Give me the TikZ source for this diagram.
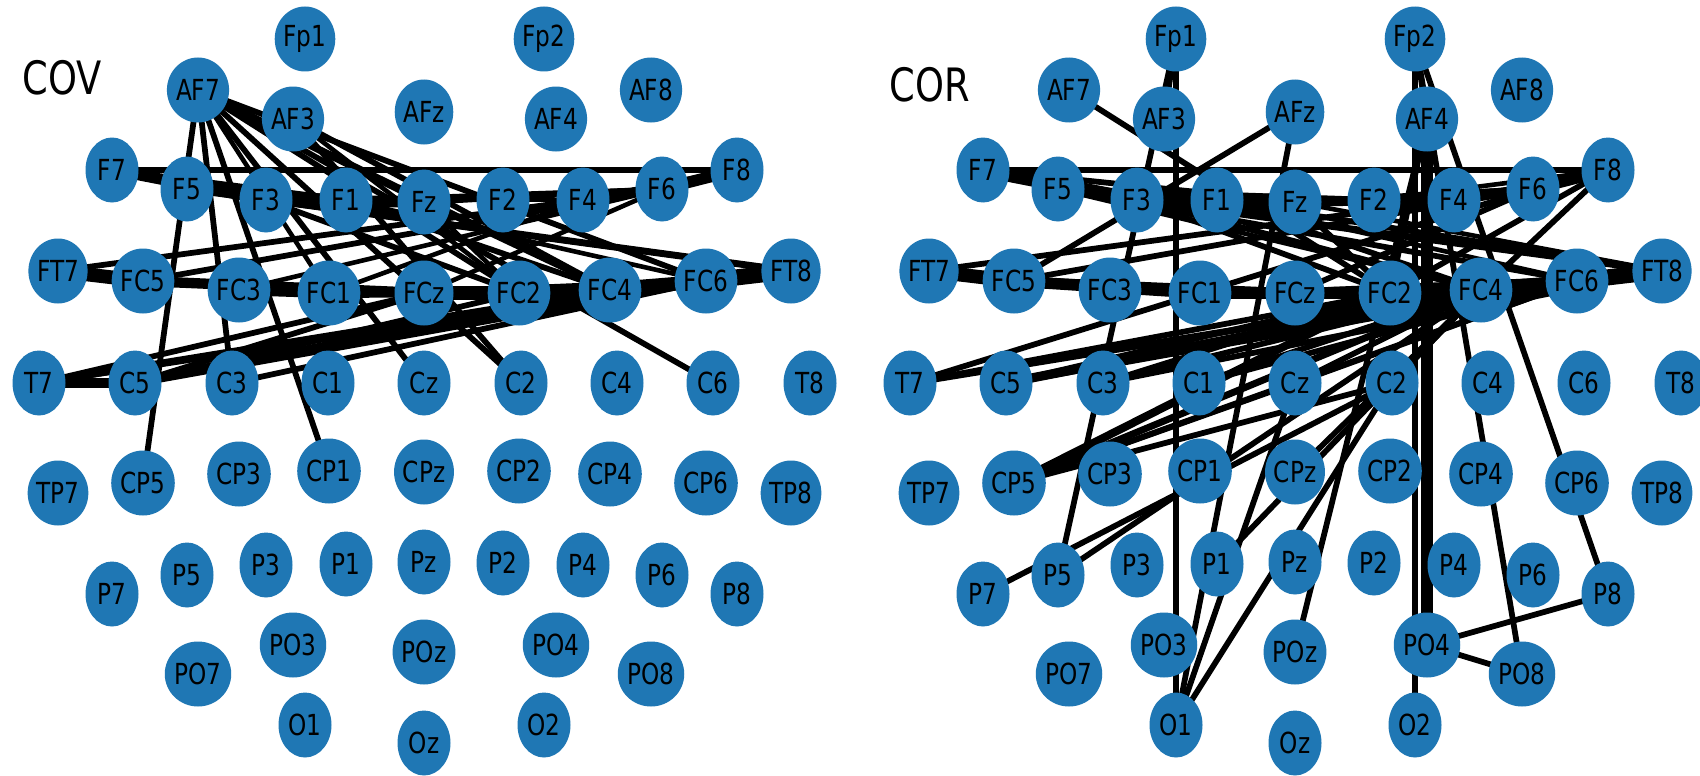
\documentclass[tikz,border=0pt]{standalone}
\usepackage{fontspec}
\newfontfamily\nodefont[FakeStretch=0.8]{DejaVu Sans}
\usetikzlibrary{shapes.geometric}
\pgfdeclarelayer{back}
\pgfdeclarelayer{bg}
\pgfsetlayers{back,bg,main}
\definecolor{nodeblue}{RGB}{31,119,180}
\tikzset{
  el/.style={ellipse, fill=nodeblue, minimum width=53pt, minimum height=65pt, inner sep=0pt,
    font=\nodefont\fontsize{29}{29}\selectfont, text=black},
  ttl/.style={font=\nodefont\fontsize{46}{46}\selectfont, text=black, inner sep=0pt},
  edge/.style={draw=black, line cap=butt}
}
\begin{document}
\begin{tikzpicture}[x=1pt,y=-1pt]
\clip (0,0) rectangle (1700,776);
\begin{pgfonlayer}{back}
\fill[white] (0,0) rectangle (1700,776);
\end{pgfonlayer}
\foreach \n/\x/\y in {Fp1/305/39, Fp2/544/39,
  AF7/198/90, AF3/293/119, AFz/424/112, AF4/556/119, AF8/651/90,
  F7/112/170, F5/187/189, F3/266/200, F1/346/200, Fz/424/202, F2/503/200, F4/583/200, F6/662/189, F8/737/170,
  FT7/58/271, FC5/143/281, FC3/239/290, FC1/329/293, FCz/424/293, FC2/519/293, FC4/610/290, FC6/706/281, FT8/791/271,
  T7/39/383, C5/135/383, C3/232/383, C1/328/383, Cz/424/383, C2/521/383, C4/617/383, C6/713/383, T8/810/383,
  TP7/58/493, CP5/143/483, CP3/239/474, CP1/329/471, CPz/424/472, CP2/519/471, CP4/610/474, CP6/706/483, TP8/791/493,
  P7/112/594, P5/187/575, P3/266/565, P1/346/564, Pz/424/562, P2/503/563, P4/583/565, P6/662/575, P8/737/594,
  PO7/198/674, PO3/293/645, POz/424/652, PO4/556/645, PO8/651/674,
  O1/305/725, Oz/424/743, O2/544/725}
{
  \node[el] (L\n) at (\x,\y) {\n};
  \node[el] (R\n) at (\x+871,\y) {\n};
}
\node[ttl] (cov) at (62,78) {COV};
\node[ttl] (cor) at (930,85) {COR};
\begin{pgfonlayer}{bg}
% ---------- COV ----------
\foreach \a/\b/\w in {
  F7/F8/6, F7/F3/9, F7/F1/5, F5/F1/8, F5/Fz/5, F3/Fz/10, F3/F4/4, Fz/F6/5, F1/F6/4,
  F4/F6/6, F6/F8/10, F4/F8/5,
  FT7/FC5/12, FT7/F4/5, FC5/F6/5, FC5/FCz/9, FC3/FC1/9, FC3/FC2/6, FC1/FC4/9, FCz/FC2/12,
  FC2/FC4/10, FCz/FC6/6, FC4/FC6/10, FC2/FT8/6, FC6/FT8/14, FC4/FT8/8,
  F1/FC4/5, Fz/FC4/5, F3/FC2/5, F5/FT8/6, F3/FT8/5, F1/FC6/4, Fz/FC2/4,
  FC1/F4/4, FCz/F6/4, FC3/F6/4,
  T7/C5/8, T7/FCz/5, T7/FC4/6, C5/FC4/7, C5/FC6/7, T7/FC6/5, C5/FCz/5, C3/FC6/5, C5/FC2/5,
  AF7/CP5/5, AF7/C3/5, AF7/CP1/5, AF7/FC1/4, AF7/Cz/5, AF7/C2/5, AF7/FC2/5, AF7/FC4/5,
  AF7/C6/5, AF7/FC6/5, AF7/Fz/6,
  AF3/C2/5, AF3/FC4/5, AF3/FC2/4}
  \draw[edge, line width=\w*1.15pt] (L\a.center) -- (L\b.center);
% ---------- COR ----------
\foreach \a/\b/\w in {
  Fp1/O1/5, Fp1/P5/5, Fp1/AF3/5, AF7/FC2/5, AFz/FC5/5, AFz/O1/5,
  Fp2/O2/5, Fp2/PO8/5, Fp2/P8/5, Fp2/AF4/5, AF4/PO4/10, AF4/FC2/5, AF4/POz/5,
  PO4/P8/5, PO4/PO8/5,
  F7/F8/6, F7/F3/12, F7/Fz/5, F5/F1/8, F5/F2/5, F3/Fz/14, F3/F4/6, F1/F2/6, F1/F4/6, Fz/F4/8,
  F2/F6/6, Fz/F6/5, F4/F6/6, F6/F8/10, F4/F8/5, F2/F8/4,
  FT7/FC5/12, FT7/F4/5, FC5/F6/5, FC5/FC1/10, FC5/FCz/8, FC3/FCz/6, FC1/FCz/10, FCz/FC2/10,
  FC1/FC4/8, FC2/FC4/10, FCz/FC6/8, FC4/FC6/10, FC6/FT8/14, FC4/FT8/8, FC2/FT8/6,
  F3/FT8/6, F1/FT8/5, F5/FC6/5, Fz/FT8/4,
  F3/FC4/5, F1/FC4/5, Fz/FC2/5, F3/FC2/5, F5/FC4/4, F1/FC6/4,
  FCz/F6/5, FC1/F6/5, FC2/F8/5, FC4/F8/5,
  T7/FC1/5, T7/FC4/6, T7/FC2/5, C5/FC4/8, C5/FC6/6, C5/FC2/5, C3/FT8/5, C3/FC2/5, C3/FC4/5,
  C1/FC4/5, C1/FC6/5, Cz/FC4/5, Cz/FC6/5, C2/FC4/5,
  CP5/FC2/7, CP5/FC4/6, CP5/C2/5, CP5/FC6/5, CP5/Cz/5,
  P7/C2/5, P5/FC4/5, P1/FC4/5, O1/Cz/5, O1/C2/5, CPz/FC4/5}
  \draw[edge, line width=\w*1.15pt] (R\a.center) -- (R\b.center);
\end{pgfonlayer}
\end{tikzpicture}
\end{document}
